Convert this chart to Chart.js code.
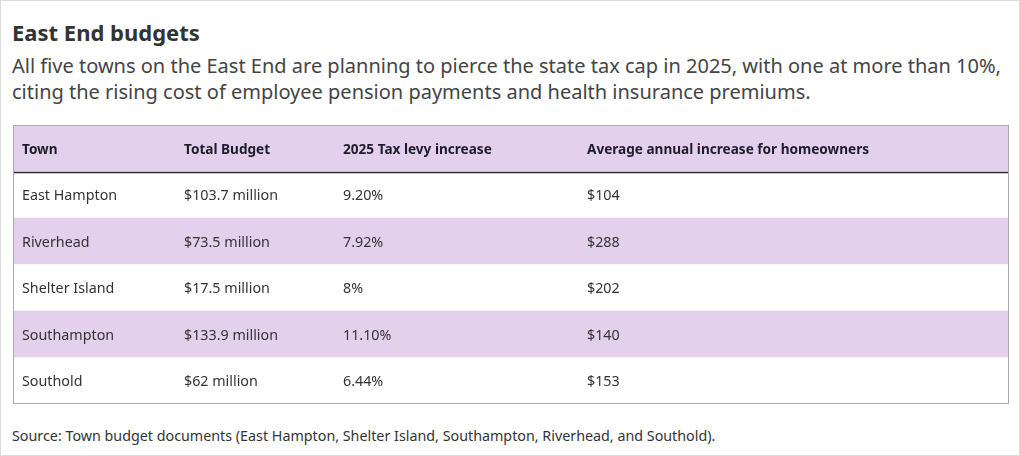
<!DOCTYPE html>
<html><head><meta charset="utf-8">
<script src="https://cdn.jsdelivr.net/npm/chart.js@4.4.1/dist/chart.umd.min.js"></script>
<style>
html,body{margin:0;padding:0;background:#fff;}
#wrap{position:relative;width:1020px;height:456px;box-sizing:border-box;border:1px solid #dcdcdc;overflow:hidden;font-family:"Noto Sans",sans-serif;}
#title{position:absolute;left:11px;top:16px;font-size:22px;font-weight:700;color:#333;white-space:nowrap;}
#sub{position:absolute;left:11px;top:52px;font-size:20px;line-height:25.5px;color:#444;white-space:nowrap;}
#src{position:absolute;left:11px;top:425px;font-size:14.3px;color:#333;white-space:nowrap;}
canvas{position:absolute;left:-1px;top:-1px;}
</style></head>
<body><div id="wrap">
<div id="title">East End budgets</div>
<div id="sub">All five towns on the East End are planning to pierce the state tax cap in 2025, with one at more than 10%,<br>citing the rising cost of employee pension payments and health insurance premiums.</div>
<div id="src">Source: Town budget documents (East Hampton, Shelter Island, Southampton, Riverhead, and Southold).</div>
<canvas id="c" width="1020" height="456"></canvas>
</div>
<script>
const columns = ["Town", "Total Budget", "2025 Tax levy increase", "Average annual increase for homeowners"];
const towns = ["East Hampton", "Riverhead", "Shelter Island", "Southampton", "Southold"];
const totalBudget = ["$103.7 million", "$73.5 million", "$17.5 million", "$133.9 million", "$62 million"];
const levyIncrease = ["9.20%", "7.92%", "8%", "11.10%", "6.44%"];
const avgIncrease = ["$104", "$288", "$202", "$140", "$153"];

// layout (not data): column left edges as fraction of table width
const colStarts = [0, 162/996, 321/996, 565/996];
const PURPLE = "#e2d0ec";

const rowKeys = ["header"].concat(towns);
const cellRows = [columns].concat(towns.map((t,i)=>[t,totalBudget[i],levyIncrease[i],avgIncrease[i]]));
const rowBg = rowKeys.map((k,i)=> (i%2===0 ? PURPLE : "#ffffff"));

const tablePlugin = {
  id:"tableText",
  afterDatasetsDraw(chart){
    const ctx = chart.ctx, ca = chart.chartArea, ys = chart.scales.y;
    const w = ca.right - ca.left;
    ctx.save();
    const step = ys.getPixelForValue(1) - ys.getPixelForValue(0);
    const hb = Math.round(ys.getPixelForValue(0) + step/2) + 0.5;
    ctx.strokeStyle = "#2b2b33"; ctx.lineWidth = 1.3;
    ctx.beginPath(); ctx.moveTo(ca.left, hb); ctx.lineTo(ca.right, hb); ctx.stroke();
    ctx.strokeStyle = "#aaaaaa"; ctx.lineWidth = 1;
    ctx.strokeRect(Math.round(ca.left)+0.5, Math.round(ca.top)+0.5, Math.round(w)-1, Math.round(ca.bottom-ca.top)-1);
    ctx.textBaseline = "middle";
    cellRows.forEach((row, r)=>{
      const y = ys.getPixelForValue(r) + 1.5;
      row.forEach((txt, c)=>{
        const x = ca.left + colStarts[c]*w + 9;
        if (r===0){ ctx.font = "700 13.6px 'Noto Sans', sans-serif"; ctx.fillStyle="#1f1b2b"; }
        else { ctx.font = "400 14.3px 'Noto Sans', sans-serif"; ctx.fillStyle="#333"; }
        ctx.fillText(txt, x, y);
      });
    });
    ctx.restore();
  }
};

new Chart(document.getElementById("c"), {
  type:"bar",
  data:{
    labels: rowKeys,
    datasets:[{
      data: rowKeys.map(()=>[0,1]),
      backgroundColor: rowBg,
      borderWidth:0,
      barPercentage:1,
      categoryPercentage:1
    }]
  },
  options:{
    responsive:false,
    animation:false,
    indexAxis:"y",
    layout:{padding:{left:13,right:11,top:125,bottom:52}},
    plugins:{legend:{display:false},tooltip:{enabled:false},title:{display:false}},
    scales:{
      x:{type:"linear",min:0,max:1,display:false},
      y:{type:"category",offset:true,display:false,grid:{display:false}}
    }
  },
  plugins:[tablePlugin]
});
</script>
</body></html>
